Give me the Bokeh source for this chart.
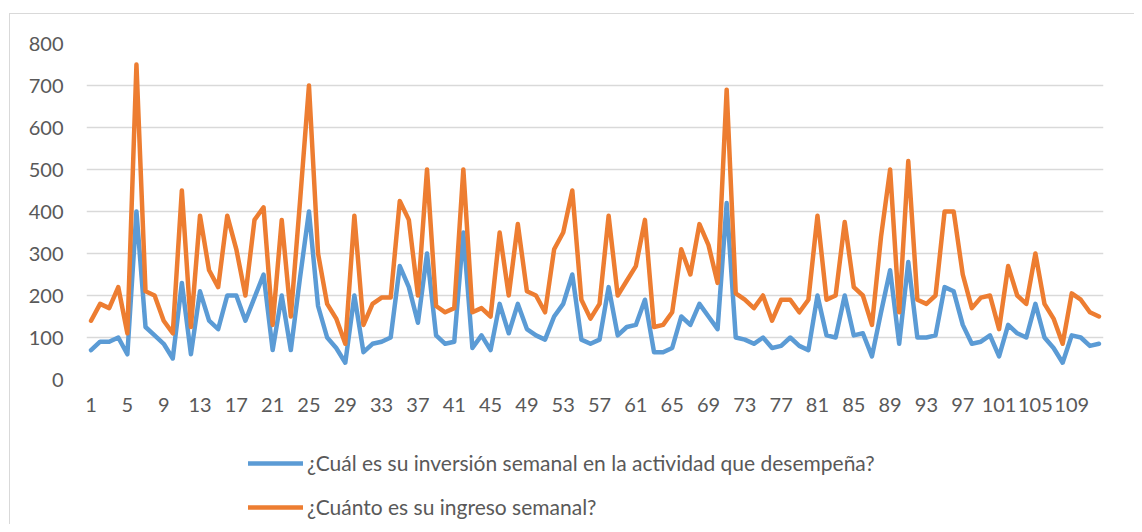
from bokeh.plotting import figure
from bokeh.layouts import column
from bokeh.models import Range1d, FixedTicker, Legend, LegendItem, ColumnDataSource
from bokeh.embed import file_html
from bokeh.resources import INLINE

weeks = list(range(1, 113))
inversion = [70, 90, 90, 100, 60, 400, 125, 105, 85, 50,
             230, 60, 210, 140, 120, 200, 200, 140, 195, 250,
             70, 200, 70, 240, 400, 175, 100, 75, 40, 200,
             65, 85, 90, 100, 270, 220, 135, 300, 105, 85,
             90, 350, 75, 105, 70, 180, 110, 180, 120, 105,
             95, 150, 180, 250, 95, 85, 95, 220, 105, 125,
             130, 190, 65, 65, 75, 150, 130, 180, 150, 120,
             420, 100, 95, 85, 100, 75, 80, 100, 80, 70,
             200, 105, 100, 200, 105, 110, 55, 160, 260, 85,
             280, 100, 100, 105, 220, 210, 130, 85, 90, 105,
             55, 130, 110, 100, 180, 100, 75, 40, 105, 100,
             80, 85]
ingreso = [140, 180, 170, 220, 110, 750, 210, 200, 140, 110,
           450, 125, 390, 260, 220, 390, 310, 200, 380, 410,
           130, 380, 150, 420, 700, 300, 180, 145, 85, 390,
           130, 180, 195, 195, 425, 380, 200, 500, 175, 160,
           170, 500, 160, 170, 150, 350, 200, 370, 210, 200,
           160, 310, 350, 450, 190, 145, 180, 390, 200, 235,
           270, 380, 125, 130, 160, 310, 250, 370, 320, 230,
           690, 205, 190, 170, 200, 140, 190, 190, 160, 190,
           390, 190, 200, 375, 220, 200, 130, 340, 500, 160,
           520, 190, 180, 200, 400, 400, 250, 170, 195, 200,
           120, 270, 200, 180, 300, 180, 145, 85, 205, 190,
           160, 150]
x_ticks = list(range(1, 113, 4))
y_ticks = list(range(0, 801, 100))
labels = ["¿Cuál es su inversión semanal en la actividad que desempeña?",
          "¿Cuánto es su ingreso semanal?"]
colors = ["#5B9BD5", "#ED7D31"]

src = ColumnDataSource(dict(x=weeks, a=inversion, b=ingreso))

FONT = "Lato"
TXT = "#595959"
W = 1124

p = figure(width=W, height=410, output_backend="svg", toolbar_location=None,
           x_range=Range1d(0.5, 112.5), y_range=Range1d(0, 800),
           min_border_left=76, min_border_right=31, min_border_top=29, min_border_bottom=45)
p.outline_line_color = None
p.background_fill_color = "white"
p.border_fill_color = "white"

r1 = p.line("x", "a", source=src, line_color=colors[0], line_width=4.5, line_join="round", line_cap="round")
r2 = p.line("x", "b", source=src, line_color=colors[1], line_width=4.5, line_join="round", line_cap="round")

p.xgrid.grid_line_color = None
p.ygrid.grid_line_color = "#D9D9D9"
p.ygrid.grid_line_width = 1.3
p.yaxis.ticker = FixedTicker(ticks=y_ticks)
p.xaxis.ticker = FixedTicker(ticks=x_ticks)
for ax in (p.xaxis, p.yaxis):
    ax.axis_line_color = None
    ax.major_tick_line_color = None
    ax.minor_tick_line_color = None
    ax.major_label_text_color = TXT
    ax.major_label_text_font = FONT
    ax.major_label_text_font_size = "20px"
p.yaxis.major_label_standoff = 17
p.xaxis.major_label_standoff = 12

# legend panel below the chart (legend-only renderers hold no visible data)
nan = float("nan")
p2 = figure(width=W, height=100, output_backend="svg", toolbar_location=None,
            x_axis_type=None, y_axis_type=None, x_range=Range1d(0, 1), y_range=Range1d(0, 1),
            min_border=0)
p2.outline_line_color = None
p2.border_fill_color = "white"
k1 = p2.line(x=[nan], y=[nan], line_color=colors[0], line_width=4.5, line_cap="round")
k2 = p2.line(x=[nan], y=[nan], line_color=colors[1], line_width=4.5, line_cap="round")
legend = Legend(items=[LegendItem(label=labels[0], renderers=[k1]),
                       LegendItem(label=labels[1], renderers=[k2])],
                location=(162, 5), orientation="vertical",
                glyph_width=55, glyph_height=24, label_height=24, spacing=19,
                label_standoff=4, padding=0, margin=0,
                border_line_color=None, background_fill_alpha=0,
                label_text_font=FONT, label_text_font_size="21px", label_text_color=TXT)
p2.add_layout(legend, "center")

layout = column(p, p2, spacing=0, margin=(13, 0, 0, 9),
                styles={"border-left": "1px solid #d9d9d9", "border-top": "1px solid #d9d9d9"})

open("out.html", "w").write(file_html(layout, INLINE))
